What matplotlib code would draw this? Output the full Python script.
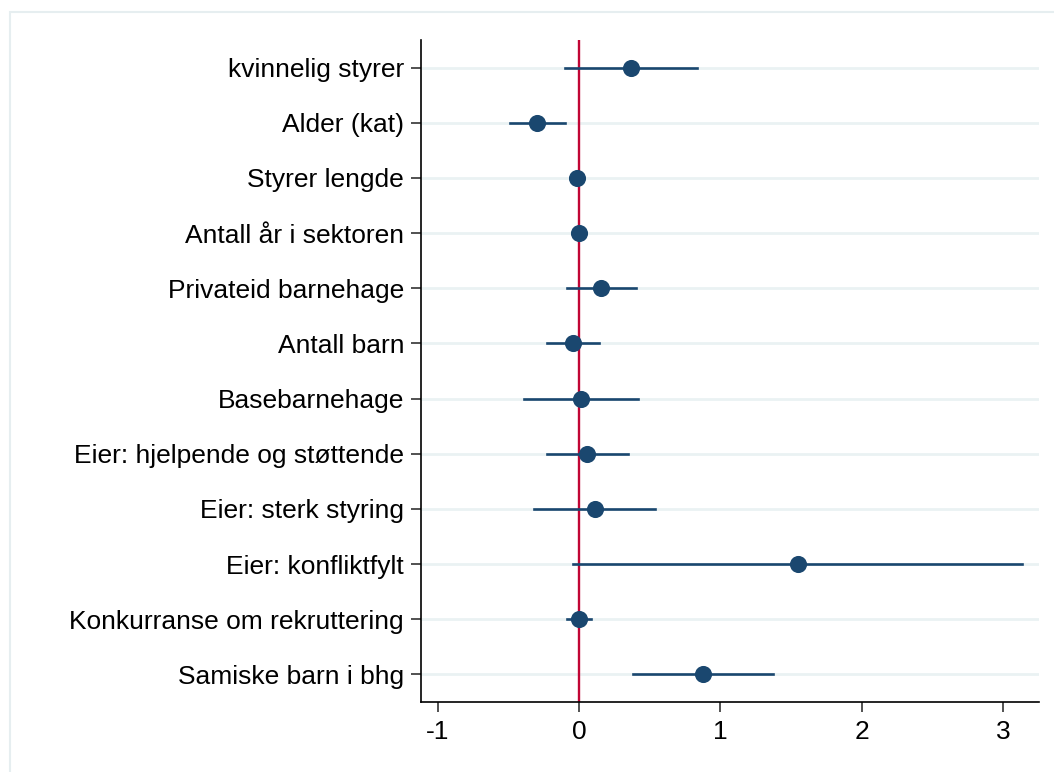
import matplotlib
matplotlib.use("Agg")
import matplotlib.pyplot as plt
from matplotlib.patches import Rectangle

plt.rcParams['font.family'] = ['Liberation Sans', 'DejaVu Sans']

labels = ["kvinnelig styrer", "Alder (kat)", "Styrer lengde", "Antall år i sektoren",
          "Privateid barnehage", "Antall barn", "Basebarnehage",
          "Eier: hjelpende og støttende", "Eier: sterk styring", "Eier: konfliktfylt",
          "Konkurranse om rekruttering", "Samiske barn i bhg"]
coef = [0.367, -0.295, -0.012, 0.0, 0.158, -0.044, 0.014, 0.06, 0.111, 1.548, -0.003, 0.877]
lower = [-0.102, -0.49, -0.03, -0.015, -0.084, -0.228, -0.39, -0.228, -0.317, -0.044, -0.088, 0.381]
upper = [0.838, -0.10, 0.01, 0.015, 0.40, 0.142, 0.418, 0.344, 0.537, 3.138, 0.082, 1.372]
xticks = [-1, 0, 1, 2, 3]

navy = '#1a476f'
fig = plt.figure(figsize=(10.54, 7.72), dpi=100)
fig.patches.append(Rectangle((10 / 1054, -0.1), 1.2, 1 - 12 / 772 + 0.1,
                             transform=fig.transFigure, fill=False,
                             edgecolor='#e6eef0', linewidth=1.5))
ax = fig.add_axes([421 / 1054, 1 - 702 / 772, (1039 - 421) / 1054, (702 - 40) / 772])

ypos = list(range(len(labels)))
for y in ypos:
    ax.axhline(y, color='#eaf2f3', linewidth=2, zorder=0)
ax.axvline(0, color='#c10534', linewidth=1.7, zorder=1)
for y, c, lo, hi in zip(ypos, coef, lower, upper):
    ax.plot([lo, hi], [y, y], color=navy, linewidth=1.9, zorder=2)
ax.plot(coef, ypos, 'o', color=navy, markersize=11.3, zorder=3)

ax.set_xlim(-1.118, 3.255)
ax.set_ylim(len(labels) - 0.5, -0.5)
ax.set_yticks(ypos)
ax.set_yticklabels(labels, fontsize=19)
ax.set_xticks(xticks)
ax.set_xticklabels([str(t) for t in xticks], fontsize=19)
ax.tick_params(axis='both', direction='out', length=7.2, width=1.2, color='#333333')
ax.tick_params(axis='y', pad=5)
ax.tick_params(axis='x', pad=6)
for s in ['top', 'right']:
    ax.spines[s].set_visible(False)
for s in ['left', 'bottom']:
    ax.spines[s].set_linewidth(1.2)

fig.savefig('out.png', dpi=100)
